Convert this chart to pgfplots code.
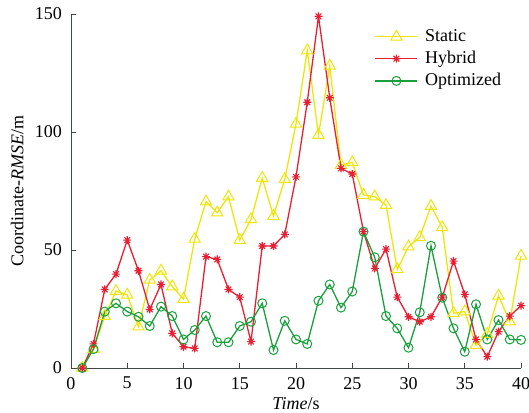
\documentclass[border=0pt]{standalone}
\usepackage{pgfplots}
\pgfplotsset{compat=1.18}
\usepackage{pgfplotstable}
\usepackage{fontspec}
\setmainfont{Liberation Serif}

% eight-armed asterisk marker
\pgfdeclareplotmark{star8}{%
  \pgfpathmoveto{\pgfqpoint{-\pgfplotmarksize}{0pt}}%
  \pgfpathlineto{\pgfqpoint{\pgfplotmarksize}{0pt}}%
  \pgfpathmoveto{\pgfqpoint{0pt}{-\pgfplotmarksize}}%
  \pgfpathlineto{\pgfqpoint{0pt}{\pgfplotmarksize}}%
  \pgfpathmoveto{\pgfqpoint{-0.707\pgfplotmarksize}{-0.707\pgfplotmarksize}}%
  \pgfpathlineto{\pgfqpoint{0.707\pgfplotmarksize}{0.707\pgfplotmarksize}}%
  \pgfpathmoveto{\pgfqpoint{-0.707\pgfplotmarksize}{0.707\pgfplotmarksize}}%
  \pgfpathlineto{\pgfqpoint{0.707\pgfplotmarksize}{-0.707\pgfplotmarksize}}%
  \pgfusepathqstroke}

\definecolor{cStatic}{RGB}{238,230,10}
\definecolor{cHybrid}{RGB}{232,30,50}
\definecolor{cOpt}{RGB}{25,160,60}
\definecolor{cAxis}{RGB}{65,72,72}

\pgfplotstableread{
t  s      h      o
1  0      0      0
2  8      10.2   8
3  22     33.3   23.9
4  32.6   39.8   27.4
5  31     54.2   23.9
6  17.5   41.2   21.7
7  37.3   24.8   17.8
8  41.2   35.4   26
9  34.5   14.7   22
10 29.2   9      12.1
11 54.7   8.3    16.1
12 70.5   47.2   22
13 65.8   46     10.9
14 72.6   33.3   10.9
15 54.2   30     17.8
16 63     11.2   19.6
17 80.5   51.7   27.4
18 64.4   51.7   7.6
19 80     56.6   20
20 103.4  81     12.1
21 134.5  112.6  10.2
22 98.7   149    28.5
23 128    114.5  35.4
24 86     84.6   25.6
25 87.1   82.2   32.4
26 73.3   57.8   57.8
27 72.6   42.2   46.9
28 69     50.4   22
29 41.8   30     16.8
30 51.4   21.7   8.6
31 55.4   19.6   23.6
32 68.6   21.7   51.8
33 59.6   30     29.8
34 23.2   45.3   16.8
35 23.9   31.2   6.9
36 9.7    12.1   27
37 14.4   4.8    12.1
38 30.6   15.4   20.3
39 19.6   22     12.1
40 47.5   26.4   11.9
}\datatable

\begin{document}
\fontsize{18bp}{21bp}\selectfont
\begin{tikzpicture}
\begin{axis}[
  scale only axis,
  width=450bp, height=354bp,
  xmin=0, xmax=40, ymin=0, ymax=150,
  axis x line*=bottom, axis y line*=left,
  axis line style={cAxis, line width=0.9pt, -},
  xtick={0,5,...,40}, ytick={0,50,100,150},
  tick align=inside,
  major tick length=5bp,
  tick style={cAxis, line width=0.8pt},
  /pgf/number format/assume math mode=true,
  ticklabel style={font=\fontsize{18bp}{21bp}\selectfont},
  xticklabel style={yshift=-3bp},
  yticklabel style={xshift=-3bp},
  xlabel={\textit{Time}/s},
  ylabel={Coordinate-\textit{RMSE}/m},
  label style={font=\fontsize{18bp}{21bp}\selectfont},
  xlabel style={yshift=4bp},
  ylabel style={yshift=-1bp},
  clip=false,
  legend style={at={(0.668,0.968)}, anchor=north west, draw=none, fill=none,
    font=\fontsize{18bp}{21bp}\selectfont, row sep=3bp,
    /tikz/every odd column/.append style={column sep=5bp}},
  legend cell align=left,
  legend image code/.code={%
    \draw[mark repeat=2, mark phase=2] plot coordinates {(0bp,0bp) (21bp,0bp) (42bp,0bp)};},
]
\addplot[cStatic, line width=1.3pt, mark=triangle, mark size=6.5bp, mark options={solid, line width=1pt}]
  table[x=t, y=s] {\datatable};
\addlegendentry{Static}
\addplot[cHybrid, line width=1.3pt, mark=star8, mark size=4bp, mark options={solid, line width=1.1pt}]
  table[x=t, y=h] {\datatable};
\addlegendentry{Hybrid}
\addplot[cOpt, line width=1.3pt, mark=o, mark size=4.5bp, mark options={solid, line width=1pt}]
  table[x=t, y=o] {\datatable};
\addlegendentry{Optimized}
\end{axis}
% page frame around the axis box and its labels
\pgfresetboundingbox
\path ([xshift=-71bp,yshift=-45bp]current axis.south west)
  rectangle ([xshift=8bp,yshift=14bp]current axis.north east);
\end{tikzpicture}
\end{document}
